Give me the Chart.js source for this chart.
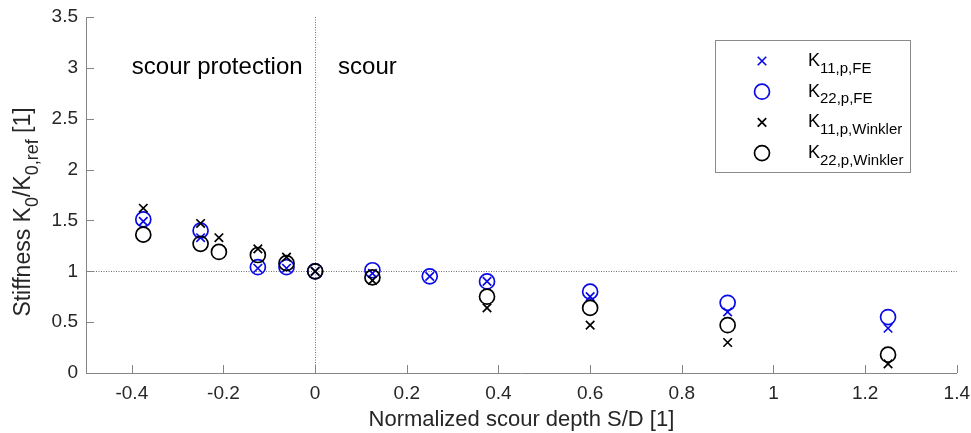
<!DOCTYPE html>
<html>
<head>
<meta charset="utf-8">
<script src="https://cdn.jsdelivr.net/npm/chart.js@4.4.0/dist/chart.umd.min.js"></script>
<style>
html,body{margin:0;padding:0;background:#fff}
canvas{display:block}
</style>
</head>
<body>
<canvas id="ch" width="971" height="433"></canvas>
<script>
// x positions (normalized scour depth S/D)
const xFE      = [-0.375, -0.25, -0.125, -0.0625, 0, 0.125, 0.25, 0.375, 0.6, 0.9, 1.25];
const xWinkler = [-0.375, -0.25, -0.21, -0.125, -0.0625, 0, 0.125, 0.375, 0.6, 0.9, 1.25];

// stiffness K0/K0,ref
const k11FE      = [1.49, 1.33, 1.03, 1.03, 1.0, 0.98, 0.95, 0.90, 0.75, 0.60, 0.44];
const k22FE      = [1.51, 1.40, 1.04, 1.04, 1.0, 1.01, 0.95, 0.90, 0.80, 0.69, 0.55];
const k11Winkler = [1.62, 1.47, 1.33, 1.22, 1.14, 1.0, 0.91, 0.64, 0.47, 0.30, 0.09];
const k22Winkler = [1.36, 1.27, 1.19, 1.16, 1.08, 1.0, 0.94, 0.75, 0.64, 0.47, 0.18];

const xTicks = [-0.4, -0.2, 0, 0.2, 0.4, 0.6, 0.8, 1, 1.2, 1.4];
const yTicks = [0, 0.5, 1, 1.5, 2, 2.5, 3, 3.5];

const legendMain = ['K', 'K', 'K', 'K'];
const legendSub  = ['11,p,FE', '22,p,FE', '11,p,Winkler', '22,p,Winkler'];

const annotText = ['scour protection', 'scour'];
const annotX    = [-0.40, 0.05];
const annotY    = [3.0, 3.0];

const BLUE = '#0a0ae6';
const BLACK = '#000000';
const AXIS = '#858585';
const TXT = '#262626';
const FONT = '"Liberation Sans", Arial, Helvetica, sans-serif';

const STYLES = [
  {shape:'crossRot', color:BLUE},
  {shape:'circle', color:BLUE},
  {shape:'crossRot', color:BLACK},
  {shape:'circle', color:BLACK},
];

function pts(xs, ys){ return xs.map((x,i)=>({x, y:ys[i]})); }

const seriesData = [pts(xFE,k11FE), pts(xFE,k22FE), pts(xWinkler,k11Winkler), pts(xWinkler,k22Winkler)];

const ds = seriesData.map((d,i)=>({
  label: legendMain[i]+legendSub[i],
  data: d,
  showLine: false,
  pointStyle: STYLES[i].shape,
  pointRadius: STYLES[i].shape==='circle' ? 7.5 : 6,
  pointBorderWidth: 1.7,
  pointBorderColor: STYLES[i].color,
  pointBackgroundColor: 'rgba(0,0,0,0)',
  order: 4-i,
}));

function drawMarker(ctx, shape, color, x, y){
  ctx.save();
  ctx.strokeStyle = color; ctx.lineWidth = 1.7;
  ctx.beginPath();
  if(shape==='circle'){
    ctx.arc(x, y, 7.5, 0, Math.PI*2);
  } else {
    const r = 6*Math.SQRT1_2;
    ctx.moveTo(x-r,y-r); ctx.lineTo(x+r,y+r);
    ctx.moveTo(x+r,y-r); ctx.lineTo(x-r,y+r);
  }
  ctx.stroke();
  ctx.restore();
}

// draws a run of [text, isSub] pieces starting at x, baseline y
function drawRich(ctx, parts, x, y, size, subSize, measureOnly){
  let w = 0;
  for(const [t, sub] of parts){
    ctx.font = (sub?subSize:size)+'px '+FONT;
    if(!measureOnly) ctx.fillText(t, x+w, sub ? y+subSize*0.45 : y);
    w += ctx.measureText(t).width;
  }
  return w;
}

const overlay = {
  id: 'overlay',
  beforeDatasetsDraw(chart){
    const {ctx, chartArea:a, scales:{x, y}} = chart;
    ctx.save();
    // dotted reference lines
    ctx.strokeStyle = '#6e6e6e'; ctx.lineWidth = 1; ctx.setLineDash([1,1.5]);
    const px = Math.round(x.getPixelForValue(0))+0.5;
    const py = Math.round(y.getPixelForValue(1))+0.5;
    ctx.beginPath();
    ctx.moveTo(px, a.top); ctx.lineTo(px, a.bottom);
    ctx.moveTo(a.left, py); ctx.lineTo(a.right, py);
    ctx.stroke();
    // inward ticks
    ctx.setLineDash([]); ctx.strokeStyle = AXIS;
    ctx.beginPath();
    x.ticks.forEach(t=>{
      const p = Math.round(x.getPixelForValue(t.value))+0.5;
      ctx.moveTo(p, a.bottom); ctx.lineTo(p, a.bottom-8);
    });
    y.ticks.forEach(t=>{
      const p = Math.round(y.getPixelForValue(t.value))+0.5;
      ctx.moveTo(a.left, p); ctx.lineTo(a.left+8, p);
    });
    ctx.stroke();
    ctx.restore();
  },
  afterDraw(chart){
    const {ctx, scales:{x, y}} = chart;
    ctx.save();
    ctx.fillStyle = '#000';
    ctx.textBaseline = 'middle';
    ctx.font = '24px '+FONT;
    annotText.forEach((t,i)=>{
      ctx.fillText(t, x.getPixelForValue(annotX[i]), y.getPixelForValue(annotY[i]));
    });

    // y axis title with subscripts
    ctx.fillStyle = TXT;
    ctx.textBaseline = 'alphabetic';
    const yParts = [['Stiffness K',false],['0',true],['/K',false],['0,ref',true],[' [1]',false]];
    const tw = drawRich(ctx, yParts, 0, 0, 23, 18, true);
    ctx.save();
    ctx.translate(30, 212);
    ctx.rotate(-Math.PI/2);
    drawRich(ctx, yParts, -tw/2, 0, 23, 18, false);
    ctx.restore();

    // legend box
    const bx = 715.5, by = 40.5, bw = 195, bh = 132;
    ctx.fillStyle = '#fff';
    ctx.fillRect(bx, by, bw, bh);
    ctx.strokeStyle = '#8a8a8a'; ctx.lineWidth = 1;
    ctx.strokeRect(bx, by, bw, bh);
    ctx.fillStyle = '#000';
    legendMain.forEach((m,i)=>{
      const cy = 61 + i*30.7;
      drawMarker(ctx, STYLES[i].shape, STYLES[i].color, 762, cy);
      drawRich(ctx, [[m,false],[legendSub[i],true]], 808, cy+5, 18, 15, false);
    });
    ctx.restore();
  }
};

const fmt = v => String(Number(v.toFixed(1)));

new Chart(document.getElementById('ch'), {
  type: 'scatter',
  data: { datasets: ds },
  options: {
    responsive: false,
    animation: false,
    devicePixelRatio: 1,
    layout: { padding: { top: 17, right: 0, left: 0, bottom: 0 } },
    plugins: { legend: {display:false}, tooltip: {enabled:false} },
    scales: {
      x: {
        type: 'linear', min: -0.5, max: 1.4,
        afterBuildTicks: s => { s.ticks = xTicks.map(v=>({value:v})); },
        ticks: { autoSkip: false, maxRotation: 0, color: TXT, font: {family: FONT, size: 19}, padding: 1,
          callback: fmt },
        grid: { display: false },
        border: { display: true, color: AXIS, width: 1 },
        title: { display: true, text: 'Normalized scour depth S/D [1]', color: TXT,
          font: {family: FONT, size: 22}, padding: {top: 2, bottom: 0} },
        afterFit: s => { s.height = 60; }
      },
      y: {
        type: 'linear', min: 0, max: 3.5,
        afterBuildTicks: s => { s.ticks = yTicks.map(v=>({value:v})); },
        ticks: { autoSkip: false, color: TXT, font: {family: FONT, size: 19}, padding: 0,
          callback: fmt },
        grid: { display: false },
        border: { display: true, color: AXIS, width: 1 },
        afterFit: s => { s.width = 86; }
      }
    }
  },
  plugins: [overlay]
});
</script>
</body>
</html>
